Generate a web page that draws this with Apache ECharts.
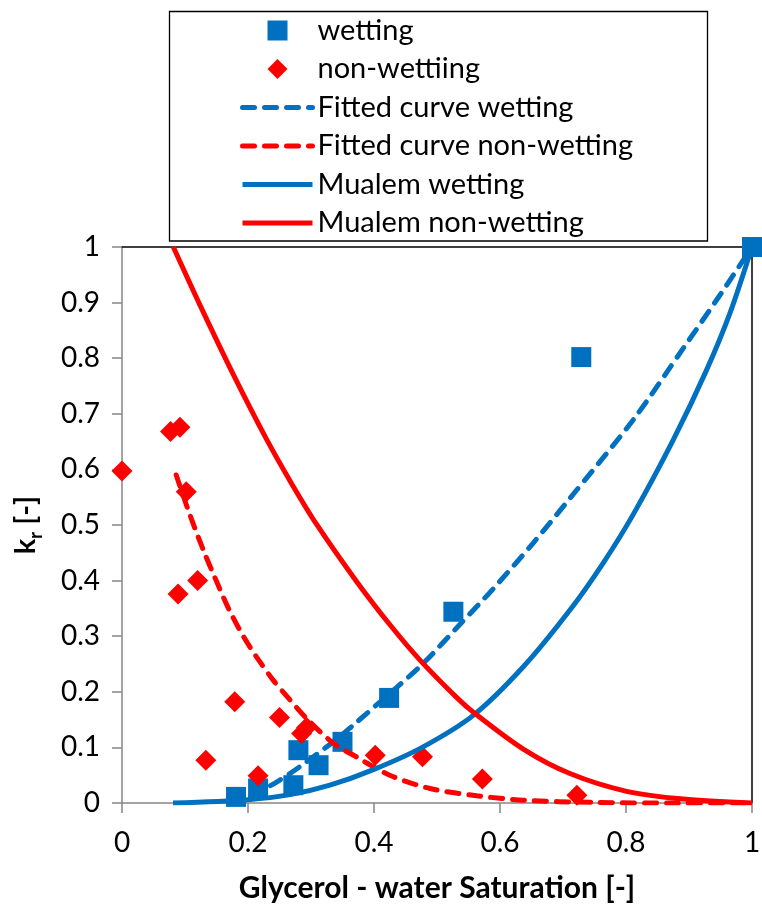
<!DOCTYPE html>
<html>
<head>
<meta charset="utf-8">
<script src="https://cdn.jsdelivr.net/npm/echarts@6/dist/echarts.min.js"></script>
<style>
  html, body { margin: 0; padding: 0; background: #fff; }
  #chart { width: 762px; height: 907px; }
</style>
</head>
<body>
<div id="chart"></div>
<script>
// Measured relative permeability (squares / diamonds)
const wettingS  = [0.181, 0.216, 0.272, 0.280, 0.312, 0.350, 0.424, 0.526, 0.729, 1.000];
const wettingKr = [0.011, 0.026, 0.032, 0.095, 0.068, 0.110, 0.189, 0.344, 0.802, 1.000];

const nonWettingS  = [0.000, 0.077, 0.092, 0.102, 0.089, 0.120, 0.133, 0.179, 0.216, 0.250, 0.285, 0.293, 0.402, 0.477, 0.572, 0.722];
const nonWettingKr = [0.597, 0.668, 0.676, 0.560, 0.376, 0.400, 0.077, 0.182, 0.049, 0.154, 0.125, 0.136, 0.086, 0.083, 0.043, 0.014];

// Fitted curves (dashed)
const fitWettingS  = [0.205, 0.246, 0.283, 0.341, 0.367, 0.425, 0.478, 0.537, 0.589, 0.653, 0.711, 0.812, 0.891, 0.950, 1.000];
const fitWettingKr = [0.012, 0.038, 0.066, 0.115, 0.140, 0.197, 0.251, 0.322, 0.385, 0.468, 0.548, 0.690, 0.818, 0.915, 1.000];

const fitNonWettingS  = [0.086, 0.105, 0.129, 0.148, 0.169, 0.193, 0.214, 0.240, 0.267, 0.293, 0.335, 0.372, 0.425, 0.489, 0.563, 0.637, 0.750, 0.870, 1.000];
const fitNonWettingKr = [0.590, 0.527, 0.455, 0.404, 0.350, 0.299, 0.262, 0.221, 0.185, 0.152, 0.108, 0.083, 0.050, 0.026, 0.013, 0.005, 0.001, 0.000, 0.000];

// Mualem model curves (solid)
const mualemWettingS  = [0.081, 0.200, 0.267, 0.330, 0.399, 0.478, 0.558, 0.637, 0.711, 0.764, 0.812, 0.875, 0.928, 0.965, 1.000];
const mualemWettingKr = [0.000, 0.006, 0.015, 0.032, 0.060, 0.101, 0.158, 0.245, 0.347, 0.432, 0.520, 0.653, 0.779, 0.881, 1.000];

const mualemNonWettingS  = [0.0815, 0.124, 0.177, 0.230, 0.270, 0.309, 0.372, 0.425, 0.473, 0.531, 0.558, 0.637, 0.711, 0.801, 0.891, 1.000];
const mualemNonWettingKr = [1.000, 0.895, 0.770, 0.653, 0.573, 0.501, 0.399, 0.321, 0.257, 0.190, 0.163, 0.097, 0.053, 0.021, 0.007, 0.000];

const seriesNames = ['wetting', 'non-wettiing', 'Fitted curve wetting', 'Fitted curve non-wetting', 'Mualem wetting', 'Mualem non-wetting'];

const BLUE = '#0070C0';
const RED = '#FF0000';
const AXIS_GREY = '#868686';
const FONT = 'Lato';
const LINE_W = 5;

const pairs = (xs, ys) => xs.map((x, i) => [x, ys[i]]);

const chart = echarts.init(document.getElementById('chart'), null, { renderer: 'canvas' });

const lineSeries = (name, xs, ys, color, dashed) => ({
  name,
  type: 'line',
  data: pairs(xs, ys),
  symbol: 'none',
  smooth: 0.3,
  silent: true,
  lineStyle: {
    color,
    width: LINE_W,
    type: dashed ? [12, 10] : 'solid',
    cap: dashed ? 'round' : 'butt'
  },
  itemStyle: { color }
});

// legend entry for a curve: line only, no marker in the middle
const lineLegendItem = (name) => ({
  name,
  lineStyle: { width: LINE_W },
  itemStyle: { opacity: 0, color: 'rgba(0,0,0,0)', borderWidth: 0 }
});

chart.setOption({
  animation: false,
  backgroundColor: '#fff',
  textStyle: { fontFamily: FONT, color: '#000' },
  grid: {
    left: 122, right: 10, top: 247, bottom: 104,
    containLabel: false,
    outerBoundsMode: 'none'
  },
  graphic: [{
    type: 'rect',
    shape: { x: 169.5, y: 11.5, width: 538, height: 229.5 },
    style: { fill: '#fff', stroke: '#000', lineWidth: 1.3 },
    z: -10
  }],
  legend: {
    orient: 'vertical',
    left: 240,
    top: 16,
    padding: 0,
    itemWidth: 70,
    itemHeight: 20,
    itemGap: 9.5,
    selectedMode: false,
    textStyle: { fontFamily: FONT, fontSize: 29, color: '#000' },
    data: [
      { name: seriesNames[0], icon: 'path://M0 0H10V10H0Z' },
      { name: seriesNames[1], icon: 'path://M5 0L10 5L5 10L0 5Z' },
      lineLegendItem(seriesNames[2]),
      lineLegendItem(seriesNames[3]),
      lineLegendItem(seriesNames[4]),
      lineLegendItem(seriesNames[5])
    ]
  },
  xAxis: [{
    type: 'value',
    min: 0, max: 1, interval: 0.2,
    name: 'Glycerol - water Saturation [-]',
    nameLocation: 'middle',
    nameGap: 70,
    nameTextStyle: { fontFamily: FONT, fontSize: 30, fontWeight: 'bold', color: '#000' },
    axisLine: { show: true, onZero: false, lineStyle: { color: AXIS_GREY, width: 1.5 } },
    axisTick: { show: true, inside: false, length: 10, lineStyle: { color: AXIS_GREY, width: 1.5 } },
    axisLabel: { margin: 26, fontFamily: FONT, fontSize: 28, color: '#000' },
    splitLine: { show: false }
  }, {
    type: 'value',
    position: 'top',
    min: 0, max: 1,
    axisLine: { show: true, onZero: false, lineStyle: { color: '#000', width: 1.5 } },
    axisTick: { show: false },
    axisLabel: { show: false },
    splitLine: { show: false }
  }],
  yAxis: [{
    type: 'value',
    min: 0, max: 1, interval: 0.1,
    name: '{k|k}{r|r}{t| [-]}',
    nameLocation: 'middle',
    nameGap: 77,
    nameRotate: 90,
    nameTextStyle: {
      rich: {
        k: { fontFamily: FONT, fontSize: 29, fontWeight: 'bold', color: '#000', lineHeight: 38, verticalAlign: 'middle' },
        r: { fontFamily: FONT, fontSize: 18, fontWeight: 'bold', color: '#000', lineHeight: 18, verticalAlign: 'bottom' },
        t: { fontFamily: FONT, fontSize: 29, fontWeight: 'bold', color: '#000', lineHeight: 38, verticalAlign: 'middle' }
      }
    },
    axisLine: { show: true, onZero: false, lineStyle: { color: AXIS_GREY, width: 1.5 } },
    axisTick: { show: true, inside: false, length: 10, lineStyle: { color: AXIS_GREY, width: 1.5 } },
    axisLabel: { margin: 22, fontFamily: FONT, fontSize: 28, color: '#000' },
    splitLine: { show: false }
  }, {
    type: 'value',
    position: 'right',
    min: 0, max: 1,
    axisLine: { show: true, onZero: false, lineStyle: { color: '#000', width: 1.5 } },
    axisTick: { show: false },
    axisLabel: { show: false },
    splitLine: { show: false }
  }],
  series: [
    {
      name: seriesNames[0],
      type: 'scatter',
      data: pairs(wettingS, wettingKr),
      symbol: 'rect',
      symbolSize: 20,
      silent: true,
      itemStyle: { color: BLUE, opacity: 1 }
    },
    {
      name: seriesNames[1],
      type: 'scatter',
      data: pairs(nonWettingS, nonWettingKr),
      symbol: 'diamond',
      symbolSize: 21,
      silent: true,
      itemStyle: { color: RED, opacity: 1 }
    },
    lineSeries(seriesNames[2], fitWettingS, fitWettingKr, BLUE, true),
    lineSeries(seriesNames[3], fitNonWettingS, fitNonWettingKr, RED, true),
    lineSeries(seriesNames[4], mualemWettingS, mualemWettingKr, BLUE, false),
    lineSeries(seriesNames[5], mualemNonWettingS, mualemNonWettingKr, RED, false)
  ]
});
</script>
</body>
</html>
